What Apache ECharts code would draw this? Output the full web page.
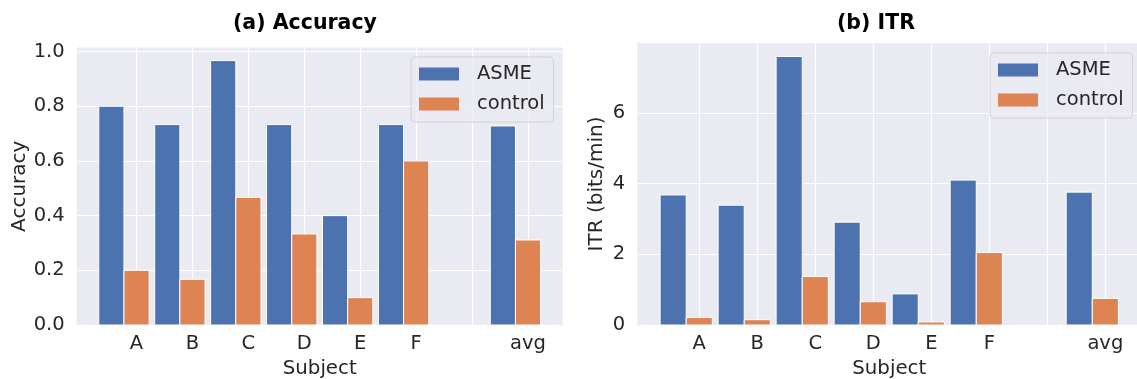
<!DOCTYPE html>
<html>
<head>
<meta charset="utf-8">
<script src="https://cdn.jsdelivr.net/npm/echarts@6/dist/echarts.min.js"></script>
<style>
  html, body { margin: 0; padding: 0; background: #fff; }
  #chart { width: 1137px; height: 379px; }
</style>
</head>
<body>
<div id="chart"></div>
<script>
// empty slot between F and avg keeps the gap of the original figure
const subjects = ["A", "B", "C", "D", "E", "F", "", "avg"];
const accAsme = [0.8, 0.733, 0.967, 0.733, 0.4, 0.733, null, 0.728];
const accControl = [0.2, 0.167, 0.467, 0.333, 0.1, 0.6, null, 0.311];
const itrAsme = [3.68, 3.39, 7.6, 2.91, 0.88, 4.1, null, 3.76];
const itrControl = [0.21, 0.15, 1.37, 0.66, 0.085, 2.05, null, 0.754];
const accTicks = [0, 0.2, 0.4, 0.6, 0.8, 1.0];
const itrTicks = [0, 2, 4, 6];

const BLUE = "#4C72B0";
const ORANGE = "#DD8452";
const TEXT = "#262626";
const FONT = "DejaVu Sans";
const BAR_W = 0.45;

const chart = echarts.init(document.getElementById("chart"));

function toPoints(values) {
  const out = [];
  values.forEach((v, i) => {
    if (v != null) out.push([i, v]);
  });
  return out;
}

function barRenderer(offset) {
  return function (params, api) {
    const x = api.value(0);
    const p1 = api.coord([x + offset - BAR_W / 2, api.value(1)]);
    const p2 = api.coord([x + offset + BAR_W / 2, 0]);
    return {
      type: "rect",
      shape: { x: p1[0], y: p1[1], width: p2[0] - p1[0], height: p2[1] - p1[1] },
      style: { fill: api.visual("color"), stroke: "#ffffff", lineWidth: 1 },
    };
  };
}

const labelIdx = subjects.map((s, i) => i).filter((i) => subjects[i] !== "");
const tickIdx = subjects.map((s, i) => i);

function xAxisFor(gridIndex) {
  return {
    type: "value",
    gridIndex: gridIndex,
    min: -1.07,
    max: 7.62,
    name: "Subject",
    nameLocation: "middle",
    nameGap: 31,
    nameTextStyle: { color: TEXT, fontSize: 19.8, fontFamily: FONT },
    axisLine: { show: false },
    axisTick: { show: false, customValues: tickIdx },
    axisLabel: {
      customValues: labelIdx,
      formatter: (v) => subjects[Math.round(v)],
      color: TEXT,
      fontSize: 19.5,
      fontFamily: FONT,
      margin: 9,
    },
    splitLine: { show: true, lineStyle: { color: "#ffffff", width: 1.2 } },
  };
}

function yAxisFor(gridIndex, max, ticks, name, gap, digits) {
  return {
    type: "value",
    gridIndex: gridIndex,
    min: 0,
    max: max,
    name: name,
    nameLocation: "middle",
    nameGap: gap,
    nameTextStyle: { color: TEXT, fontSize: 20, fontFamily: FONT },
    axisLine: { show: false },
    axisTick: { show: false, customValues: ticks },
    axisLabel: {
      customValues: ticks,
      formatter: (v) => v.toFixed(digits),
      color: TEXT,
      fontSize: 19.5,
      fontFamily: FONT,
      margin: 12,
    },
    splitLine: { show: true, lineStyle: { color: "#ffffff", width: 1.2 } },
  };
}

function series(name, color, values, axis, offset) {
  return {
    type: "custom",
    name: name,
    xAxisIndex: axis,
    yAxisIndex: axis,
    itemStyle: { color: color },
    encode: { x: 0, y: 1 },
    renderItem: barRenderer(offset),
    data: toPoints(values),
  };
}

function legendAt(left, top) {
  return {
    data: ["ASME", "control"],
    orient: "vertical",
    left: left,
    top: top,
    icon: "rect",
    itemWidth: 40,
    itemHeight: 13,
    itemGap: 10,
    padding: [7, 9, 8, 8],
    backgroundColor: "rgba(234,234,242,0.8)",
    borderColor: "rgba(204,204,204,0.8)",
    borderWidth: 1,
    borderRadius: 4,
    textStyle: { color: TEXT, fontSize: 19.5, fontFamily: FONT, padding: [0, 0, 0, 13] },
  };
}

const option = {
  animation: false,
  backgroundColor: "#ffffff",
  title: [
    {
      text: "(a) Accuracy",
      left: 233,
      top: 13,
      padding: 0,
      textStyle: { color: "#000", fontSize: 20.5, fontWeight: "bold", fontFamily: FONT },
    },
    {
      text: "(b) ITR",
      left: 837,
      top: 13,
      padding: 0,
      textStyle: { color: "#000", fontSize: 20.5, fontWeight: "bold", fontFamily: FONT },
    },
  ],
  legend: [legendAt(411, 57), legendAt(990, 53)],
  grid: [
    {
      left: 76.7, right: 574.3, top: 47.5, bottom: 54,
      outerBoundsMode: "none",
      show: true, backgroundColor: "#EAEAF2", borderWidth: 0,
    },
    {
      left: 637.2, right: -4.3, top: 43, bottom: 54,
      outerBoundsMode: "none",
      show: true, backgroundColor: "#EAEAF2", borderWidth: 0,
    },
  ],
  xAxis: [xAxisFor(0), xAxisFor(1)],
  yAxis: [
    yAxisFor(0, 1.015, accTicks, "Accuracy", 45, 1),
    yAxisFor(1, 7.98, itrTicks, "ITR (bits/min)", 30, 0),
  ],
  series: [
    series("ASME", BLUE, accAsme, 0, -BAR_W),
    series("control", ORANGE, accControl, 0, 0),
    series("ASME", BLUE, itrAsme, 1, -BAR_W),
    series("control", ORANGE, itrControl, 1, 0),
  ],
};

chart.setOption(option);
</script>
</body>
</html>
